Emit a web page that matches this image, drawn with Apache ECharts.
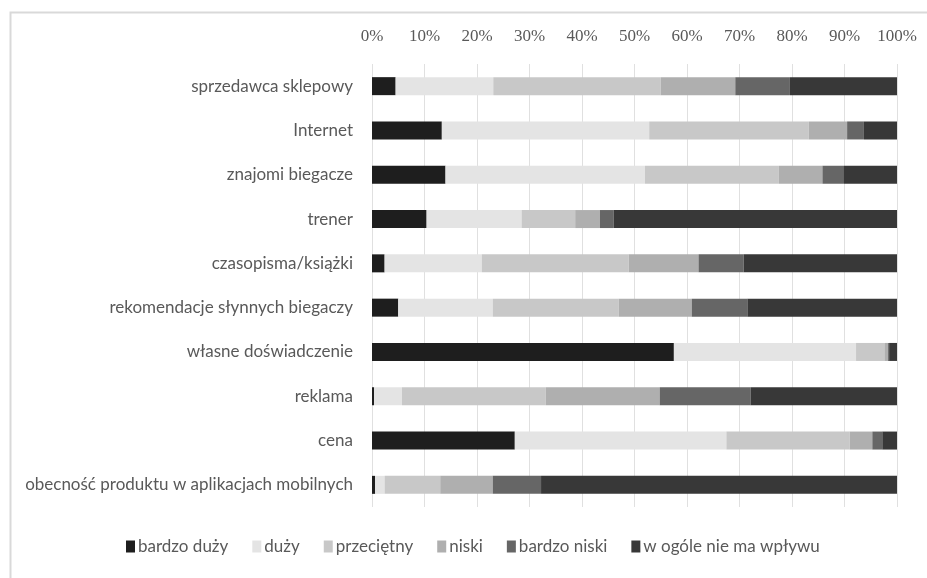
<!DOCTYPE html>
<html>
<head>
<meta charset="utf-8">
<script src="https://cdn.jsdelivr.net/npm/echarts@6/dist/echarts.min.js"></script>
<style>
  html, body { margin: 0; padding: 0; background: #fff; }
  #chart { width: 927px; height: 578px; }
</style>
</head>
<body>
<div id="chart"></div>
<script>
// kategorie (od góry do dołu)
var categories = [
  'sprzedawca sklepowy',
  'Internet',
  'znajomi biegacze',
  'trener',
  'czasopisma/książki',
  'rekomendacje słynnych biegaczy',
  'własne doświadczenie',
  'reklama',
  'cena',
  'obecność produktu w aplikacjach mobilnych'
];

var seriesNames = ['bardzo duży', 'duży', 'przeciętny', 'niski', 'bardzo niski', 'w ogóle nie ma wpływu'];

// udziały w %
var bardzoDuzy  = [4.5, 13.3, 14.0, 10.4, 2.4, 5.0, 57.5, 0.4, 27.2, 0.6];
var duzy        = [18.6, 39.5, 38.0, 18.1, 18.5, 18.0, 34.7, 5.3, 40.3, 1.8];
var przecietny  = [31.9, 30.4, 25.5, 10.2, 28.0, 24.0, 5.4, 27.4, 23.5, 10.6];
var niski       = [14.2, 7.3, 8.3, 4.7, 13.3, 13.9, 0.7, 21.7, 4.3, 10.0];
var bardzoNiski = [10.4, 3.2, 4.1, 2.6, 8.6, 10.6, 0.2, 17.3, 1.9, 9.2];
var wOgole      = [20.4, 6.4, 10.1, 54.0, 29.2, 28.5, 1.5, 27.9, 2.8, 67.8];

var xTicks = [0, 10, 20, 30, 40, 50, 60, 70, 80, 90, 100];

var colors = ['#1e1e1e', '#e4e4e4', '#c8c8c8', '#afafaf', '#666666', '#383838'];
var values = [bardzoDuzy, duzy, przecietny, niski, bardzoNiski, wOgole];

var chart = echarts.init(document.getElementById('chart'));

var series = seriesNames.map(function (name, i) {
  return {
    name: name,
    type: 'bar',
    stack: 'all',
    barWidth: 18,
    itemStyle: { color: colors[i] },
    data: values[i]
  };
});

var option = {
  animation: false,
  color: colors,
  graphic: [{
    // ramka obszaru wykresu
    type: 'rect',
    left: 8, top: 10,
    shape: { width: 1000, height: 1000 },
    style: { fill: 'none', stroke: '#d9d9d9', lineWidth: 2 },
    silent: true
  }],
  grid: { left: 372, right: 30, top: 64, bottom: 71, containLabel: false },
  legend: {
    bottom: 18,
    left: 121,
    itemWidth: 9,
    itemHeight: 12,
    itemGap: 24,
    icon: 'rect',
    data: seriesNames,
    textStyle: { color: '#595959', fontSize: 17, fontFamily: 'Lato, sans-serif', padding: [0, 0, 0, -2] }
  },
  xAxis: {
    type: 'value',
    position: 'top',
    min: 0,
    max: 100,
    interval: 10,
    axisLine: { show: false },
    axisTick: { show: false },
    splitLine: { show: true, lineStyle: { color: '#e0e0e0', width: 1 } },
    axisLabel: {
      margin: 19,
      color: '#595959',
      fontSize: 17,
      fontFamily: 'Liberation Serif, DejaVu Serif, serif',
      formatter: function (v) { return xTicks.indexOf(v) >= 0 ? v + '%' : ''; }
    }
  },
  yAxis: {
    type: 'category',
    inverse: true,
    data: categories,
    axisLine: { show: false },
    axisTick: { show: false },
    axisLabel: {
      margin: 19,
      color: '#595959',
      fontSize: 17,
      fontFamily: 'Lato, sans-serif'
    }
  },
  series: series
};

chart.setOption(option);
</script>
</body>
</html>
